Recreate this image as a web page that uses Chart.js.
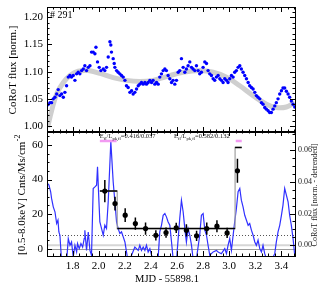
<!DOCTYPE html>
<html>
<head>
<meta charset="utf-8">
<script src="https://cdn.jsdelivr.net/npm/chart.js@4.4.0/dist/chart.umd.min.js"></script>
<style>
  html, body { margin: 0; padding: 0; background: #fff; }
  #wrap { position: relative; width: 327px; height: 291px; }
  #top { position: absolute; left: 0; top: 0; }
  #bottom { position: absolute; left: 0; top: 120px; }
</style>
</head>
<body>
<div id="wrap">
  <canvas id="top" width="327" height="136"></canvas>
  <canvas id="bottom" width="327" height="171"></canvas>
</div>
<script>
// CoRoT light curve (top panel)
const corotTime = [1.601, 1.614, 1.627, 1.639, 1.652, 1.665, 1.678, 1.690, 1.703, 1.716, 1.729, 1.741, 1.754, 1.767, 1.780, 1.792, 1.805, 1.818, 1.831, 1.843,
  1.856, 1.869, 1.882, 1.894, 1.907, 1.920, 1.933, 1.945, 1.958, 1.971, 1.979, 1.991, 2.004, 2.017, 2.035, 2.047, 2.060, 2.073, 2.086, 2.093,
  2.098, 2.111, 2.119, 2.124, 2.137, 2.149, 2.162, 2.175, 2.188, 2.201, 2.213, 2.226, 2.239, 2.252, 2.264, 2.277, 2.290, 2.303, 2.315, 2.328,
  2.341, 2.354, 2.366, 2.379, 2.392, 2.405, 2.417, 2.430, 2.443, 2.456, 2.468, 2.481, 2.494, 2.507, 2.519, 2.532, 2.545, 2.558, 2.570, 2.583,
  2.596, 2.609, 2.621, 2.634, 2.647, 2.660, 2.672, 2.685, 2.698, 2.711, 2.723, 2.736, 2.749, 2.762, 2.774, 2.787, 2.800, 2.813, 2.826, 2.838,
  2.851, 2.864, 2.877, 2.889, 2.902, 2.915, 2.928, 2.940, 2.953, 2.966, 2.979, 2.991, 3.004, 3.017, 3.030, 3.042, 3.055, 3.068, 3.081, 3.093,
  3.106, 3.119, 3.132, 3.145, 3.157, 3.170, 3.183, 3.196, 3.208, 3.221, 3.234, 3.247, 3.259, 3.272, 3.285, 3.298, 3.310, 3.323, 3.336, 3.349,
  3.361, 3.374, 3.387, 3.400, 3.412, 3.425, 3.438, 3.451, 3.463, 3.476, 3.489, 3.502];
const corotFlux = [1.037, 1.040, 1.043, 1.043, 1.050, 1.053, 1.059, 1.067, 1.056, 1.059, 1.053, 1.062, 1.074, 1.090, 1.093, 1.090, 1.093, 1.084, 1.096, 1.099,
  1.096, 1.102, 1.105, 1.111, 1.102, 1.108, 1.111, 1.136, 1.136, 1.133, 1.145, 1.118, 1.108, 1.102, 1.105, 1.102, 1.108, 1.127, 1.155, 1.149,
  1.136, 1.124, 1.115, 1.108, 1.102, 1.099, 1.096, 1.093, 1.090, 1.084, 1.074, 1.071, 1.062, 1.065, 1.059, 1.062, 1.068, 1.074, 1.077, 1.080,
  1.077, 1.080, 1.077, 1.080, 1.084, 1.080, 1.084, 1.077, 1.080, 1.077, 1.090, 1.096, 1.102, 1.105, 1.102, 1.093, 1.087, 1.080, 1.084, 1.077,
  1.084, 1.099, 1.102, 1.124, 1.108, 1.099, 1.105, 1.111, 1.118, 1.108, 1.105, 1.102, 1.111, 1.102, 1.096, 1.099, 1.108, 1.118, 1.115, 1.102,
  1.096, 1.093, 1.087, 1.084, 1.090, 1.093, 1.087, 1.084, 1.080, 1.087, 1.084, 1.080, 1.087, 1.093, 1.090, 1.099, 1.102, 1.108, 1.111, 1.105,
  1.099, 1.093, 1.087, 1.080, 1.074, 1.071, 1.068, 1.062, 1.056, 1.053, 1.050, 1.043, 1.040, 1.034, 1.031, 1.028, 1.025, 1.025, 1.031, 1.037,
  1.043, 1.050, 1.059, 1.065, 1.070, 1.070, 1.064, 1.059, 1.053, 1.046, 1.040, 1.035];

// smooth trend (grey)
const trendTime = [1.609, 1.639, 1.678, 1.729, 1.780, 1.843, 1.920, 2.009, 2.111, 2.213, 2.315, 2.417, 2.519, 2.647, 2.774, 2.877, 2.979, 3.081, 3.183, 3.285, 3.361, 3.438, 3.502];
const trendFlux = [0.998, 1.028, 1.059, 1.080, 1.093, 1.101, 1.102, 1.097, 1.089, 1.084, 1.082, 1.084, 1.091, 1.099, 1.102, 1.099, 1.090, 1.074, 1.056, 1.040, 1.034, 1.035, 1.043];

// detrended CoRoT flux (bottom panel, right axis)
const detrTime = [1.609, 1.619, 1.632, 1.639, 1.652, 1.665, 1.678, 1.688, 1.695, 1.703, 1.716, 1.754, 1.767, 1.780, 1.792, 1.805, 1.818, 1.831, 1.838, 1.851,
  1.864, 1.877, 1.889, 1.894, 1.907, 1.920, 1.933, 1.945, 1.958, 1.971, 1.984, 1.991, 2.002, 2.009, 2.022, 2.035, 2.047, 2.060, 2.073, 2.093,
  2.111, 2.124, 2.137, 2.149, 2.162, 2.175, 2.188, 2.201, 2.213, 2.226, 2.252, 2.277, 2.303, 2.315, 2.328, 2.341, 2.354, 2.366, 2.379, 2.392,
  2.405, 2.430, 2.456, 2.468, 2.481, 2.494, 2.507, 2.519, 2.532, 2.545, 2.558, 2.570, 2.596, 2.621, 2.634, 2.647, 2.660, 2.672, 2.685, 2.698,
  2.711, 2.723, 2.749, 2.774, 2.787, 2.800, 2.813, 2.826, 2.838, 2.851, 2.877, 2.902, 2.915, 2.940, 2.966, 2.979, 2.991, 3.004, 3.017, 3.030,
  3.042, 3.055, 3.068, 3.081, 3.093, 3.106, 3.119, 3.132, 3.145, 3.157, 3.170, 3.183, 3.196, 3.208, 3.221, 3.234, 3.247, 3.259, 3.272, 3.285,
  3.323, 3.349, 3.361, 3.374, 3.387, 3.400, 3.412, 3.425, 3.438, 3.451, 3.463, 3.476, 3.489, 3.502];
const detrFlux = [0.0389, 0.0379, 0.0337, 0.0295, 0.0242, 0.0211, 0.0137, 0.0158, 0.0084, 0.0063, -0.0105, -0.0105, 0.0042, 0.0000, 0.0021, -0.0074, 0.0000, -0.0042, 0.0011, -0.0021,
  0.0011, -0.0011, 0.0042, 0.0095, -0.0032, 0.0084, -0.0032, -0.0063, 0.0358, 0.0368, 0.0379, 0.0495, 0.0274, 0.0147, 0.0105, 0.0063, 0.0126, 0.0105, 0.0274, 0.0653,
  0.0400, 0.0274, 0.0147, 0.0105, 0.0074, 0.0084, 0.0053, 0.0021, -0.0042, -0.0105, -0.0063, -0.0011, -0.0032, 0.0000, -0.0032, -0.0011, -0.0032, 0.0000, -0.0042, -0.0021,
  -0.0063, -0.0095, -0.0074, 0.0084, 0.0126, 0.0189, 0.0200, 0.0179, 0.0147, 0.0126, 0.0021, -0.0084, -0.0095, 0.0168, 0.0284, 0.0211, 0.0105, 0.0021, 0.0105, 0.0063,
  0.0000, -0.0084, -0.0084, 0.0063, 0.0189, 0.0200, 0.0095, 0.0063, 0.0000, -0.0063, -0.0042, -0.0032, -0.0042, -0.0053, -0.0021, -0.0053, 0.0000, 0.0042, -0.0032, 0.0063,
  0.0147, 0.0232, 0.0337, 0.0358, 0.0284, 0.0242, 0.0189, 0.0158, 0.0126, 0.0137, 0.0095, 0.0063, 0.0021, 0.0000, 0.0032, -0.0021, -0.0042, 0.0000, -0.0053, -0.0084,
  -0.0095, -0.0053, 0.0021, 0.0084, 0.0126, 0.0189, 0.0253, 0.0358, 0.0316, 0.0274, 0.0189, 0.0126, 0.0042, -0.0063];

// X-ray count rate with errors (bottom panel, left axis)
const xrayTime = [2.047, 2.125, 2.203, 2.281, 2.359, 2.438, 2.516, 2.594, 2.672, 2.750, 2.828, 2.906, 2.984, 3.063];
const xrayRate = [33.3, 26.1, 19.4, 14.5, 11.6, 7.7, 9.3, 12.0, 10.6, 7.4, 11.6, 13.0, 9.1, 45.1];
const xrayErr  = [6.5, 4.0, 4.0, 3.5, 3.5, 3.0, 3.0, 3.0, 3.5, 3.0, 3.5, 3.5, 3.0, 7.0];

// Bayesian blocks
const blockEdges = [2.009, 2.142, 3.045, 3.096];
const blockRates = [33.3, 11.6, 58.6];

// flare intervals
const flareStart = [2.009, 3.050];
const flareEnd = [2.137, 3.096];
const flareBarLevel = 62.3;
const flareValues = ['0.416/0.037', '0.582/0.132'];
const quiescentLevel = 7.7;

const xTicks = [1.8, 2.0, 2.2, 2.4, 2.6, 2.8, 3.0, 3.2, 3.4];
const fluxTicks = [1.00, 1.05, 1.10, 1.15, 1.20];
const rateTicks = [0, 20, 40, 60];
const detrTicks = [0.00, 0.02, 0.04, 0.06];

const xMin = 1.604, xMax = 3.504;

Chart.defaults.font.family = '"Liberation Serif", "DejaVu Serif", serif';
Chart.defaults.color = '#000';

function pts(xs, ys) {
  return xs.map((x, i) => ({ x: x, y: ys[i] }));
}

// vertical axes: no extra padding for the end labels
function fitY(width) {
  return s => { s.width = width; s.paddingTop = 0; s.paddingBottom = 0; };
}

// inward ticks on all sides + frame
function drawFrame(chart, yLeft, yRight) {
  const ctx = chart.ctx, a = chart.chartArea, xs = chart.scales.x;
  ctx.save();
  ctx.strokeStyle = '#000';
  ctx.lineWidth = 1;
  ctx.beginPath();
  for (let i = 33; i <= 70; i++) {
    const px = Math.round(xs.getPixelForValue(i * 0.05)) + 0.5;
    const len = i % 4 === 0 ? 5 : 2.5;
    ctx.moveTo(px, a.bottom); ctx.lineTo(px, a.bottom - len);
    ctx.moveTo(px, a.top); ctx.lineTo(px, a.top + len);
  }
  const sides = [[yLeft, a.left, 1], [yRight, a.right, -1]];
  sides.forEach(([s, edge, dir]) => {
    for (let i = s.from; i <= s.to; i++) {
      const py = Math.round(s.scale.getPixelForValue(i * s.step)) + 0.5;
      const len = i % s.every === 0 ? 5 : 2.5;
      ctx.moveTo(edge, py); ctx.lineTo(edge + dir * len, py);
    }
  });
  ctx.stroke();
  ctx.strokeRect(Math.round(a.left) + 0.5, Math.round(a.top) + 0.5, Math.round(a.right - a.left), Math.round(a.bottom - a.top));
  ctx.restore();
}

function rotText(ctx, text, x, y, font, color) {
  ctx.save();
  ctx.translate(x, y);
  ctx.rotate(-Math.PI / 2);
  ctx.font = font;
  ctx.fillStyle = color;
  ctx.textAlign = 'center';
  ctx.textBaseline = 'middle';
  ctx.fillText(text, 0, 0);
  ctx.restore();
}

const topDecor = {
  id: 'topDecor',
  afterDraw(chart) {
    const y = chart.scales.y, a = chart.chartArea;
    drawFrame(chart, { scale: y, from: 99, to: 121, step: 0.01, every: 5 }, { scale: y, from: 99, to: 121, step: 0.01, every: 5 });
    const ctx = chart.ctx;
    ctx.save();
    ctx.fillStyle = '#000';
    ctx.font = '11px "Liberation Serif"';
    ctx.textAlign = 'right';
    ctx.textBaseline = 'middle';
    fluxTicks.forEach(v => ctx.fillText(v.toFixed(2), a.left - 4, y.getPixelForValue(v)));
    ctx.textAlign = 'left';
    ctx.font = '10px "Liberation Serif"';
    ctx.textBaseline = 'alphabetic';
    ctx.fillText('# 291', 50, 18);
    ctx.restore();
    rotText(ctx, 'CoRoT flux [norm.]', 13, 70, '11px "Liberation Serif"', '#000');
  }
};

new Chart(document.getElementById('top'), {
  type: 'line',
  data: {
    datasets: [{
      data: pts(corotTime, corotFlux),
      showLine: false,
      pointRadius: 1.7,
      pointBackgroundColor: '#0000ff',
      pointBorderWidth: 0
    }, {
      data: pts(trendTime, trendFlux),
      borderColor: '#cfcfcf',
      borderWidth: 5,
      tension: 0.4,
      pointRadius: 0
    }]
  },
  options: {
    responsive: false,
    animation: false,
    events: [],
    layout: { padding: { left: 47, right: 32, top: 7, bottom: 2 } },
    plugins: { legend: { display: false }, tooltip: { enabled: false } },
    scales: {
      x: { type: 'linear', display: false, min: xMin, max: xMax },
      y: { type: 'linear', display: false, min: 0.989, max: 1.219 }
    }
  },
  plugins: [topDecor]
});

function subText(ctx, x, y, parts, size) {
  let cx = x;
  parts.forEach(([t, sub]) => {
    ctx.font = (sub ? size * 0.7 : size) + 'px "Liberation Serif"';
    ctx.fillText(t, cx, sub ? y + 1.8 : y);
    cx += ctx.measureText(t).width;
  });
  return cx - x;
}

const bottomDecor = {
  id: 'bottomDecor',
  beforeDatasetsDraw(chart) {
    const ctx = chart.ctx, a = chart.chartArea;
    const yL = chart.scales.y, yR = chart.scales.y2;
    ctx.save();
    ctx.lineWidth = 2;
    ctx.strokeStyle = '#d6d6d6';
    let py = yR.getPixelForValue(0);
    ctx.beginPath(); ctx.moveTo(a.left, py); ctx.lineTo(a.right, py); ctx.stroke();
    ctx.lineWidth = 1;
    ctx.strokeStyle = '#9a9a9a';
    py = Math.round(yL.getPixelForValue(0)) + 0.5;
    ctx.beginPath(); ctx.moveTo(a.left, py); ctx.lineTo(a.right, py); ctx.stroke();
    ctx.strokeStyle = '#555';
    ctx.setLineDash([1, 2]);
    py = Math.round(yL.getPixelForValue(quiescentLevel)) + 0.5;
    ctx.beginPath(); ctx.moveTo(a.left, py); ctx.lineTo(a.right, py); ctx.stroke();
    ctx.restore();
  },
  afterDatasetsDraw(chart) {
    const ctx = chart.ctx, xs = chart.scales.x, yL = chart.scales.y;
    ctx.save();
    ctx.strokeStyle = '#000';
    ctx.lineWidth = 1.5;
    ctx.beginPath();
    xrayTime.forEach((t, i) => {
      const px = xs.getPixelForValue(t);
      ctx.moveTo(px, yL.getPixelForValue(xrayRate[i] - xrayErr[i]));
      ctx.lineTo(px, yL.getPixelForValue(xrayRate[i] + xrayErr[i]));
    });
    ctx.stroke();
    ctx.restore();
  },
  afterDraw(chart) {
    const ctx = chart.ctx, xs = chart.scales.x;
    drawFrame(chart, { scale: chart.scales.y, from: 0, to: 13, step: 5, every: 4 }, { scale: chart.scales.y2, from: 0, to: 14, step: 0.005, every: 4 });

    // flare annotations
    ctx.save();
    ctx.fillStyle = '#111';
    ctx.textBaseline = 'alphabetic';
    flareValues.forEach((val, i) => {
      const parts = [['E', 0], ['fl', 1], ['/L', 0], ['pk,fl', 1], ['=' + val, 0]];
      let x = xs.getPixelForValue(flareStart[i]);
      if (i === 1) {
        ctx.globalAlpha = 0;
        const w = subText(ctx, 0, 0, parts, 6.5);
        ctx.globalAlpha = 1;
        x = x - w - 6;
      }
      subText(ctx, x, 18, parts, 6.5);
    });
    ctx.restore();

    // axis titles
    ctx.save();
    ctx.fillStyle = '#000';
    ctx.font = '10.5px "Liberation Serif"';
    ctx.textAlign = 'center';
    ctx.textBaseline = 'middle';
    ctx.fillText('MJD - 55898.1', 167, 159);
    ctx.restore();

    ctx.save();
    ctx.translate(22, 135);
    ctx.rotate(-Math.PI / 2);
    ctx.fillStyle = '#000';
    ctx.textBaseline = 'middle';
    ctx.textAlign = 'left';
    ctx.font = '11px "Liberation Serif"';
    const main = '[0.5-8.0keV] Cnts/Ms/cm';
    ctx.fillText(main, 0, 0);
    const w = ctx.measureText(main).width;
    ctx.font = '8px "Liberation Serif"';
    ctx.fillText('-2', w + 0.5, -4);
    ctx.restore();

    rotText(ctx, 'CoRoT flux [norm. - detrended]', 315, 75, '8px "Liberation Serif"', '#222');
  }
};

const blockTops = [];
blockRates.forEach((r, i) => {
  blockTops.push({ x: blockEdges[i], y: r }, { x: blockEdges[i + 1], y: r }, { x: blockEdges[i + 1], y: null });
});
const blockSteps = blockRates.map((r, i) => ({ x: blockEdges[i], y: r }));
blockSteps.push({ x: blockEdges[blockEdges.length - 1], y: blockRates[blockRates.length - 1] });
const flareBars = [];
flareStart.forEach((s, i) => {
  flareBars.push({ x: s, y: flareBarLevel }, { x: flareEnd[i], y: flareBarLevel }, { x: flareEnd[i], y: null });
});

new Chart(document.getElementById('bottom'), {
  type: 'line',
  data: {
    datasets: [{
      data: pts(xrayTime, xrayRate),
      showLine: false,
      pointRadius: 2.6,
      pointBackgroundColor: '#000',
      pointBorderWidth: 0,
      yAxisID: 'y'
    }, {
      data: blockTops,
      borderColor: '#000',
      borderWidth: 1.5,
      pointRadius: 0,
      yAxisID: 'y'
    }, {
      data: blockSteps,
      stepped: true,
      borderColor: '#a0a0a0',
      borderWidth: 1.2,
      pointRadius: 0,
      yAxisID: 'y'
    }, {
      data: flareBars,
      borderColor: '#f29af2',
      borderWidth: 2.5,
      pointRadius: 0,
      yAxisID: 'y'
    }, {
      data: pts(detrTime, detrFlux),
      borderColor: '#3030ff',
      borderWidth: 1.2,
      pointRadius: 0,
      tension: 0,
      yAxisID: 'y2'
    }]
  },
  options: {
    responsive: false,
    animation: false,
    events: [],
    layout: { padding: { left: 0, right: 0, top: 11, bottom: 0 } },
    plugins: { legend: { display: false }, tooltip: { enabled: false } },
    scales: {
      x: {
        type: 'linear', min: xMin, max: xMax,
        afterFit: s => { s.height = 35; },
        afterBuildTicks: s => { s.ticks = xTicks.map(v => ({ value: v })); },
        grid: { display: false, drawTicks: false },
        border: { display: false },
        ticks: { padding: 4, autoSkip: false, maxRotation: 0, font: { size: 11 }, callback: v => v.toFixed(1) }
      },
      y: {
        type: 'linear', position: 'left', min: -4.26, max: 68.1,
        afterFit: fitY(47),
        afterBuildTicks: s => { s.ticks = rateTicks.map(v => ({ value: v })); },
        grid: { display: false, drawTicks: false },
        border: { display: false },
        ticks: { padding: 4, autoSkip: false, font: { size: 11 }, callback: v => String(v) }
      },
      y2: {
        type: 'linear', position: 'right', min: -0.00676, max: 0.072,
        afterFit: fitY(32),
        afterBuildTicks: s => { s.ticks = detrTicks.map(v => ({ value: v })); },
        grid: { display: false, drawTicks: false },
        border: { display: false },
        ticks: { padding: 3, autoSkip: false, color: '#222', font: { size: 8 }, callback: v => v.toFixed(2) }
      }
    }
  },
  plugins: [bottomDecor]
});
</script>
</body>
</html>
